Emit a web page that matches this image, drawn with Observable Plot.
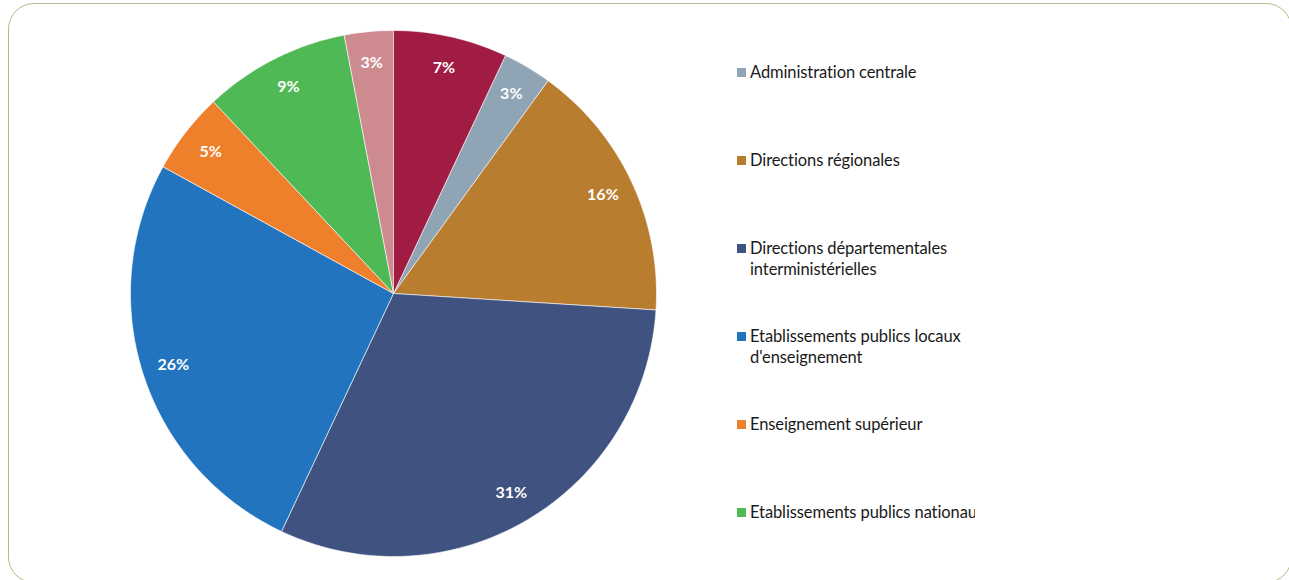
<!DOCTYPE html>
<html>
<head>
<meta charset="utf-8">
<script src="https://cdn.jsdelivr.net/npm/d3@7"></script>
<script src="https://cdn.jsdelivr.net/npm/@observablehq/plot@0.6"></script>
<style>
  html, body { margin: 0; padding: 0; background: #ffffff; }
  #wrap { position: relative; width: 1289px; height: 580px; overflow: hidden; background: #fff; }
  #frame { position: absolute; left: 8px; top: 3px; width: 1284px; height: 580px; box-sizing: border-box;
           border: 1.7px solid #bdb68a; border-radius: 26px; }
  #chart { position: absolute; left: 0; top: 0; }
  #legend { position: absolute; left: 737px; top: 0; width: 238px; height: 580px; overflow: hidden;
            font-family: Lato, "Open Sans", sans-serif; font-size: 16.5px; color: #1a1a1a; }
  .item { position: absolute; left: 0; height: 88px; width: 400px; }
  .sw { position: absolute; left: 0; top: 6px; width: 9px; height: 9px; }
  .lab { position: absolute; left: 13px; top: 0; line-height: 21px; white-space: pre; letter-spacing: -0.1px; }
</style>
</head>
<body>
<div id="wrap">
  <div id="frame"></div>
  <div id="chart"></div>
  <div id="legend"></div>
</div>
<script>
// ---- Data ----
const categories = [
  "Administration centrale",
  "Directions régionales",
  "Directions départementales\ninterministérielles",
  "Etablissements publics locaux\nd'enseignement",
  "Enseignement supérieur",
  "Etablissements publics nationaux",
  "Autres services",
  "Autres établissements"
];
const shares = [3, 16, 31, 26, 5, 9, 3, 7];
const colors = ["#8fa4b4", "#b97d2f", "#3f5280", "#2374be", "#ee7f2b", "#4fb955", "#cd8b8f", "#a11c43"];
const firstSliceAngle = 25.2; // degrees, clockwise from 12 o'clock

// ---- Pie geometry (from data) ----
const start = firstSliceAngle * Math.PI / 180;
const arcs = d3.pie().sort(null).startAngle(start).endAngle(start + 2 * Math.PI)(shares);
const slicePts = [];
const labelPts = [];
arcs.forEach((a, i) => {
  const cat = categories[i];
  slicePts.push({cat, x: 0, y: 0});
  const n = Math.max(4, Math.ceil((a.endAngle - a.startAngle) / (Math.PI / 180)));
  for (let k = 0; k <= n; k++) {
    const t = a.startAngle + (a.endAngle - a.startAngle) * k / n;
    slicePts.push({cat, x: Math.sin(t), y: Math.cos(t)});
  }
  slicePts.push({cat, x: 0, y: 0});
  const m = (a.startAngle + a.endAngle) / 2;
  const r = 0.88;
  labelPts.push({x: r * Math.sin(m), y: r * Math.cos(m), text: shares[i] + "%"});
});

const plot = Plot.plot({
  width: 1289,
  height: 580,
  marginLeft: 130,
  marginRight: 633,
  marginTop: 30,
  marginBottom: 24,
  x: {domain: [-1, 1], axis: null},
  y: {domain: [-1, 1], axis: null},
  color: {domain: categories, range: colors},
  style: {fontFamily: "Lato, 'Open Sans', sans-serif", background: "transparent", overflow: "visible"},
  marks: [
    Plot.line(slicePts, {x: "x", y: "y", z: "cat", fill: "cat", stroke: "#ffffff", strokeWidth: 0.6, curve: "linear"}),
    Plot.text(labelPts, {x: "x", y: "y", text: "text", fill: "#ffffff", fontWeight: "bold", fontSize: 16})
  ]
});
document.getElementById("chart").appendChild(plot);

// ---- Legend (only the entries that fit in the chart area, as in the original) ----
const legend = document.getElementById("legend");
categories.forEach((c, i) => {
  const top = 62 + i * 88;
  if (top + 21 > 580) return;
  const it = document.createElement("div");
  it.className = "item";
  it.style.top = top + "px";
  const sw = document.createElement("div");
  sw.className = "sw";
  sw.style.background = colors[i];
  const lab = document.createElement("div");
  lab.className = "lab";
  lab.textContent = c;
  it.appendChild(sw);
  it.appendChild(lab);
  legend.appendChild(it);
});
</script>
</body>
</html>
